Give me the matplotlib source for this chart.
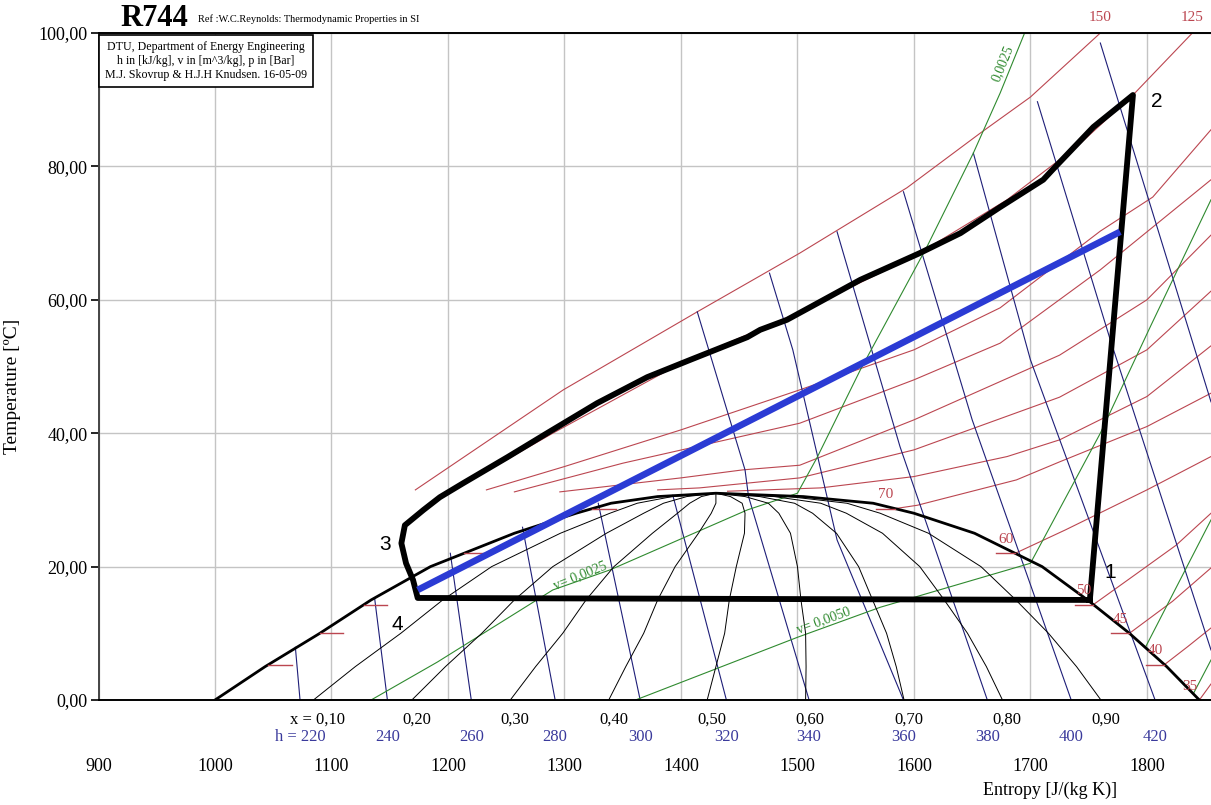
import numpy as np
import matplotlib.pyplot as plt

plt.rcParams['font.family'] = ['Liberation Serif', 'DejaVu Serif']

# saturation dome (entropy J/kgK, temperature C)
sat_T = [0, 5, 10, 15, 20, 25, 28, 29.5, 30.5, 31.0]
sat_s_liq = [1000, 1043, 1090, 1134, 1185, 1257, 1310, 1340, 1380, 1430]
sat_s_vap = [1845, 1817, 1785, 1749, 1710, 1652, 1600, 1565, 1505, 1430]

qualities = [0.1, 0.2, 0.3, 0.4, 0.5, 0.6, 0.7, 0.8, 0.9]
quality_labels = ['0,10', '0,20', '0,30', '0,40', '0,50', '0,60', '0,70', '0,80', '0,90']

# isobars [bar] on the saturation line
sat_press = ['35', '40', '45', '50', '60', '70']
sat_press_T = [0.0, 5.3, 10.0, 14.3, 22.0, 28.7]

# isobar curves (superheated + supercritical)
isobar_s = [
    [1845, 1855],
    [1815, 1835, 1855],
    [1785, 1822, 1855],
    [1754, 1790, 1825, 1855],
    [1687, 1730, 1800, 1855],
    [1584, 1603, 1688, 1725, 1800, 1855],
    [1440, 1520, 1600, 1680, 1725, 1800, 1855],
    [1380, 1416, 1502, 1600, 1725, 1800, 1855],
    [1296, 1400, 1453, 1502, 1600, 1725, 1800, 1855],
    [1257, 1350, 1502, 1600, 1674, 1760, 1855],
    [1233, 1300, 1400, 1502, 1600, 1674, 1760, 1805, 1855],
    [1200, 1290, 1400, 1500, 1600, 1680, 1740, 1788, 1839],
    [1172, 1299, 1414, 1502, 1594, 1657, 1700, 1760],
]
isobar_T = [
    [0.0, 2.4],
    [5.3, 8.0, 10.8],
    [10.0, 14.8, 19.8],
    [14.3, 18.8, 23.2, 28.0],
    [22.0, 25.5, 31.5, 36.5],
    [28.7, 29.2, 33.0, 35.7, 41.0, 46.0],
    [31.3, 31.8, 33.5, 36.5, 39.0, 45.5, 53.1],
    [31.5, 31.8, 33.3, 37.5, 45.4, 52.5, 61.3],
    [31.2, 33.3, 34.5, 35.2, 42.0, 51.7, 60.0, 69.7],
    [31.2, 35.5, 41.5, 48.0, 53.5, 64.5, 78.0],
    [31.5, 35.0, 40.5, 46.5, 52.5, 58.8, 70.3, 75.4, 85.5],
    [31.0, 40.0, 50.5, 58.0, 66.5, 75.0, 83.0, 90.7, 100.0],
    [31.5, 46.5, 58.2, 67.0, 76.8, 85.0, 90.4, 100.0],
]
top_press = ['125', '150']

# isenthalps, h in kJ/kg
enthalpies = ['220', '240', '260', '280', '300', '320', '340', '360', '380', '400', '420', '440', '460']
isenth_s = [
    [1069, 1073],
    [1137, 1148],
    [1202, 1220],
    [1264, 1292],
    [1329, 1365],
    [1393, 1439],
    [1414, 1455, 1458, 1510],
    [1476, 1496, 1534, 1591],
    [1534, 1588, 1663],
    [1591, 1650, 1735],
    [1651, 1700, 1807],
    [1706, 1768, 1855],
    [1760, 1855],
]
isenth_T = [
    [7.9, 0.0],
    [15.3, 0.0],
    [22.0, 0.0],
    [25.9, 0.0],
    [29.5, 0.0],
    [30.7, 0.0],
    [58.2, 34.5, 30.5, 0.0],
    [64.0, 52.5, 24.0, 0.0],
    [70.2, 38.0, 0.0],
    [76.2, 42.0, 0.0],
    [82.0, 51.0, 0.0],
    [89.7, 54.3, 7.5],
    [98.5, 44.7],
]

# isochores, v in m3/kg
isochore_s = [
    [1134, 1191, 1290, 1339, 1457, 1500, 1517, 1554, 1611, 1651, 1674, 1695],
    [1361, 1500, 1571, 1700, 1760, 1803, 1855],
    [1799, 1855],
    [1840, 1855],
]
isochore_T = [
    [0.0, 5.7, 16.5, 19.5, 28.5, 31.0, 36.4, 49.5, 67.9, 82.0, 91.0, 100.0],
    [0.0, 9.4, 13.9, 20.5, 40.0, 56.0, 75.0],
    [8.0, 27.0],
    [1.0, 6.0],
]

# refrigeration cycle 1-2-3-4
cycle_s = [1751, 1788, 1754, 1719, 1711, 1674, 1640, 1605, 1554, 1511, 1491, 1468,
           1457, 1408, 1371, 1328, 1285, 1251, 1213, 1193, 1179, 1163, 1160, 1164,
           1170, 1174, 1751]
cycle_T = [15.0, 90.7, 85.9, 79.5, 78.0, 73.9, 70.0, 67.0, 63.0, 58.9, 57.0, 55.5,
           54.4, 51.0, 48.4, 44.5, 40.0, 36.4, 32.5, 30.4, 28.5, 26.2, 23.5, 20.5,
           18.0, 15.3, 15.0]
state_names = ['1', '2', '3', '4']
state_s = [1751, 1788, 1163, 1174]
state_T = [15.0, 90.7, 26.2, 15.3]
state_offset = [(15, 20), (17, -5), (-14, -14), (-15, -19)]

blue_s = [1174, 1777]
blue_T = [16.5, 70.2]

red = '#bb4650'
navy = '#1e1e78'
green = '#2f8a2f'

fig = plt.figure(figsize=(12.11, 8.05), dpi=100)
ax = fig.add_axes([98.5 / 1211, 105 / 805, 1112.5 / 1211, 667 / 805])
ax.set_xlim(900, 1855)
ax.set_ylim(0, 100)
ax.set_xticks(range(900, 1900, 100))
ax.set_yticks(range(0, 101, 20))
ax.set_yticklabels([f'{v},00' for v in range(0, 101, 20)])
ax.grid(color='#c4c4c4', lw=1)
ax.set_axisbelow(True)
ax.tick_params(axis='x', length=0, pad=42, labelsize=13)
ax.tick_params(axis='y', length=6, width=1.2, labelsize=13, pad=2)
ax.spines['right'].set_visible(False)
for sp in ['left', 'bottom', 'top']:
    ax.spines[sp].set_linewidth(1.4)
ax.spines['left'].set_color('#444444')

for s, T in zip(isobar_s, isobar_T):
    ax.plot(s, T, color=red, lw=0.8)
for s, T in zip(isenth_s, isenth_T):
    ax.plot(s, T, color=navy, lw=0.8)
for s, T in zip(isochore_s, isochore_T):
    ax.plot(s, T, color=green, lw=0.8)

for x in qualities:
    qs = [l + x * (v - l) for l, v in zip(sat_s_liq, sat_s_vap)]
    ax.plot(qs, sat_T, color='black', lw=0.7)

ax.plot(sat_s_liq + sat_s_vap[::-1], sat_T + sat_T[::-1], color='black', lw=2)

for p, T in zip(sat_press, sat_press_T):
    sl = np.interp(T, sat_T, sat_s_liq)
    sv = np.interp(T, sat_T, sat_s_vap)
    ax.plot([sl, sl + 20], [T, T], color=red, lw=1)
    ax.plot([sv - 16, sv], [T, T], color=red, lw=1)
    ax.annotate(p, (sv - 8, T), xytext=(0, 10), textcoords='offset points',
                ha='center', va='center', color=red, fontsize=11)

for p, s, T in zip(top_press, isobar_s[-2:], isobar_T[-2:]):
    ax.annotate(p, (s[-1], T[-1]), xytext=(0, 11), textcoords='offset points',
                ha='center', va='center', color=red, fontsize=11, annotation_clip=False)

ax.plot(cycle_s, cycle_T, color='black', lw=4.2, solid_joinstyle='round')
ax.plot(blue_s, blue_T, color='#2b3bd4', lw=4.8, solid_capstyle='butt')

for name, s, T, off in zip(state_names, state_s, state_T, state_offset):
    ax.annotate(name, (s, T), xytext=off, textcoords='offset points', ha='center',
                va='center', fontsize=15, family='Liberation Sans')

# isochore labels
ax.text(1313, 18.6, 'v= 0,0025', color=green, fontsize=10, rotation=22, ha='center', va='center')
ax.text(1522, 11.9, 'v= 0,0050', color=green, fontsize=10, rotation=20, ha='center', va='center')
ax.text(1676, 95.5, '0,0025', color=green, fontsize=10, rotation=68, ha='center', va='center')

# quality and enthalpy rows below the axis
tr = ax.get_xaxis_transform()
for i, (x, lab) in enumerate(zip(qualities, quality_labels)):
    s_end = sat_s_liq[0] + x * (sat_s_vap[0] - sat_s_liq[0])
    if i == 0:
        ax.text(s_end + 27, -0.03, 'x = ' + lab, transform=tr, ha='right', va='center', fontsize=12)
    else:
        ax.text(s_end + 4, -0.03, lab, transform=tr, ha='center', va='center', fontsize=12)
for i, (h, s) in enumerate(zip(enthalpies, isenth_s)):
    if s[-1] > 1850:
        continue
    if i == 0:
        ax.text(s[-1] + 22, -0.056, 'h = ' + h, transform=tr, ha='right', va='center',
                fontsize=12, color='#3a3a9c')
    else:
        ax.text(s[-1], -0.056, h, transform=tr, ha='center', va='center',
                fontsize=12, color='#3a3a9c')

ax.text(0.855, -0.135, 'Entropy [J/(kg K)]', transform=ax.transAxes, ha='center',
        va='center', fontsize=13)
ax.set_ylabel('Temperature [ºC]', fontsize=14)
ax.yaxis.set_label_coords(-0.07, 0.47)

ax.text(0.006, 0.988, 'DTU, Department of Energy Engineering\n'
        'h in [kJ/kg], v in [m^3/kg], p in [Bar]\n'
        'M.J. Skovrup & H.J.H Knudsen. 16-05-09',
        transform=ax.transAxes, ha='left', va='top', fontsize=8.6, multialignment='center',
        linespacing=1.2,
        bbox=dict(boxstyle='square,pad=0.5', fc='white', ec='black', lw=1.2))

fig.text(120 / 1211, 1 - 18 / 805, 'R744', fontsize=22, weight='bold', va='center')
fig.text(198 / 1211, 1 - 19 / 805, 'Ref :W.C.Reynolds: Thermodynamic Properties in SI',
         fontsize=7.5, va='center')

fig.savefig('out.png', dpi=100)
